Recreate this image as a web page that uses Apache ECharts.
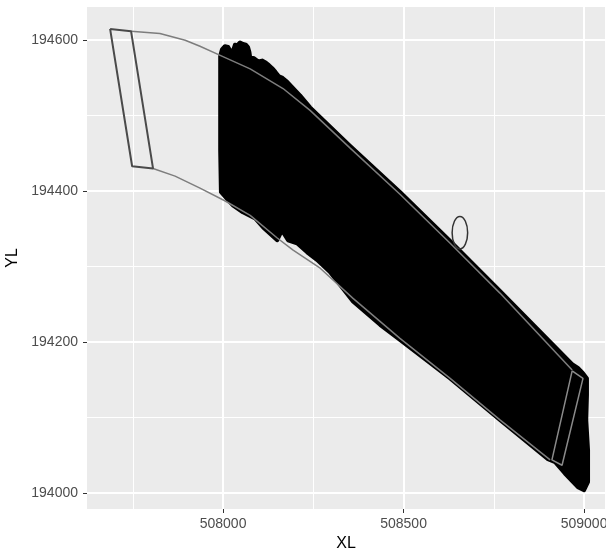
<!DOCTYPE html>
<html><head><meta charset="utf-8">
<script src="https://cdn.jsdelivr.net/npm/echarts@6/dist/echarts.min.js"></script>
<style>html,body{margin:0;padding:0;background:#fff}#c{width:606px;height:552px}</style>
</head><body><div id="c"></div>
<script>
// ---- axis ticks ----
const xTicks = [508000, 508500, 509000];
const yTicks = [194000, 194200, 194400, 194600];
const xMinor = [507750, 508250, 508750];
const yMinor = [194100, 194300, 194500];
const xRange = [507623, 509058];
const yRange = [193979, 194644];

// ---- dense point cloud (outline of the black region) ----
const cloudX = [507992,507997,508005,508014,508020,508028,508033,508039,508047,508055,508063,508069,508073,508075,508086,508097,508108,508119,508127,508136,508145,508155,508165,508175,508213,508241,508352,508490,508629,508767,508967,508983,508997,509008,509008,509006,509011,509011,509000,508983,508947,508920,508900,508767,508629,508490,508435,508360,508296,508260,508233,508205,508180,508163,508150,508111,508089,508055,508028,508014,507994,507992,507992];
const cloudY = [194579,194588,194592,194591,194586,194587,194594,194593,194597,194595,194594,194591,194584,194577,194576,194572,194573,194570,194567,194563,194558,194552,194550,194546,194527,194511,194460,194399,194334,194268,194171,194166,194159,194152,194130,194097,194057,194015,194004,194008,194026,194041,194045,194097,194152,194203,194223,194254,194293,194309,194319,194331,194335,194348,194335,194352,194364,194372,194381,194388,194399,194454,194521];

// ---- corridor boundary curves ----
const topX = [507745,507825,507895,507936,507992,508075,508166,508241,508352,508490,508629,508767,508967];
const topY = [194612,194609,194600,194592,194580,194562,194536,194507,194457,194396,194331,194265,194163];
const botX = [507806,507867,507936,508006,508075,508150,508194,508269,508360,508490,508629,508767,508906];
const botY = [194430,194420,194404,194387,194368,194338,194322,194298,194258,194205,194152,194097,194044];

// ---- boxes ----
const leftBoxX = [507687,507745,507806,507748,507687];
const leftBoxY = [194615,194612,194430,194433,194615];
const rightBoxX = [508967,508997,508939,508911,508967];
const rightBoxY = [194162,194152,194037,194044,194162];

// ---- ellipse (circle in data units) ----
const ringX = [508656];
const ringY = [194345];
const ringR = [21.5];

const zip = (a, b) => a.map((v, i) => [v, b[i]]);

const chart = echarts.init(document.getElementById('c'), null, {renderer: 'canvas'});
const FONT = "'Liberation Sans', Arial, sans-serif";

chart.setOption({
  animation: false,
  backgroundColor: '#ffffff',
  grid: {left: 87, top: 7, right: 1, bottom: 43, show: true, backgroundColor: '#ebebeb', borderWidth: 0,
    containLabel: false, outerBoundsMode: 'none', z: 0},
  xAxis: {
    type: 'value', min: xRange[0], max: xRange[1], minInterval: 500, maxInterval: 500, z: 0,
    name: 'XL', nameLocation: 'middle', nameGap: 26,
    nameTextStyle: {color: '#000', fontSize: 16, fontFamily: FONT},
    axisLine: {show: false},
    axisTick: {show: true, length: 4, lineStyle: {color: '#333', width: 1}, customValues: xTicks},
    axisLabel: {color: '#4d4d4d', fontSize: 14, fontFamily: FONT, margin: 8, customValues: xTicks,
      formatter: v => (v % 500 === 0 ? String(v) : '')},
    splitLine: {show: false}
  },
  yAxis: {
    type: 'value', min: yRange[0], max: yRange[1], minInterval: 200, maxInterval: 200, z: 0,
    name: 'YL', nameLocation: 'middle', nameGap: 66,
    nameTextStyle: {color: '#000', fontSize: 16, fontFamily: FONT},
    axisLine: {show: false},
    axisTick: {show: true, length: 4, lineStyle: {color: '#333', width: 1}, customValues: yTicks},
    axisLabel: {color: '#4d4d4d', fontSize: 14, fontFamily: FONT, margin: 9, customValues: yTicks,
      formatter: v => (v % 200 === 0 ? String(v) : '')},
    splitLine: {show: false}
  },
  series: [
    {
      type: 'line', data: [], z: 1, silent: true,
      markLine: {
        z: 1, silent: true, symbol: 'none', label: {show: false}, animation: false,
        lineStyle: {color: '#ffffff', width: 1, type: 'solid'},
        emphasis: {disabled: true},
        data: xMinor.map(v => ({xAxis: v})).concat(yMinor.map(v => ({yAxis: v})))
      }
    },
    {
      type: 'line', data: [], z: 1, silent: true,
      markLine: {
        z: 1, silent: true, symbol: 'none', label: {show: false}, animation: false,
        lineStyle: {color: '#ffffff', width: 2, type: 'solid'},
        emphasis: {disabled: true},
        data: xTicks.map(v => ({xAxis: v})).concat(yTicks.map(v => ({yAxis: v})))
      }
    },
    {
      type: 'custom', z: 5, silent: true, clip: true,
      data: zip(cloudX, cloudY),
      renderItem: (params, api) => {
        if (params.dataIndex !== 0) return null;
        const pts = cloudX.map((x, i) => api.coord([x, cloudY[i]]));
        return {type: 'polygon', shape: {points: pts},
          style: {fill: '#000000', stroke: '#000000', lineWidth: 4, lineJoin: 'round'}};
      }
    },
    {type: 'line', z: 6, silent: true, symbol: 'none', data: zip(topX, topY),
      lineStyle: {color: '#7d7d7d', width: 1.5}},
    {type: 'line', z: 6, silent: true, symbol: 'none', data: zip(botX, botY),
      lineStyle: {color: '#7d7d7d', width: 1.5}},
    {type: 'line', z: 6, silent: true, symbol: 'none', data: zip(leftBoxX, leftBoxY),
      lineStyle: {color: '#4a4a4a', width: 2}},
    {type: 'line', z: 6, silent: true, symbol: 'none', data: zip(rightBoxX, rightBoxY),
      lineStyle: {color: '#8a8a8a', width: 1.5}},
    {
      type: 'custom', z: 6, silent: true,
      data: ringX.map((x, i) => [x, ringY[i], ringR[i]]),
      renderItem: (params, api) => {
        const c = api.coord([api.value(0), api.value(1)]);
        const s = api.size([api.value(2), api.value(2)]);
        return {type: 'ellipse', shape: {cx: c[0], cy: c[1], rx: s[0], ry: s[1]},
          style: {fill: null, stroke: '#333333', lineWidth: 1.5}};
      }
    }
  ]
});
</script>
</body></html>
